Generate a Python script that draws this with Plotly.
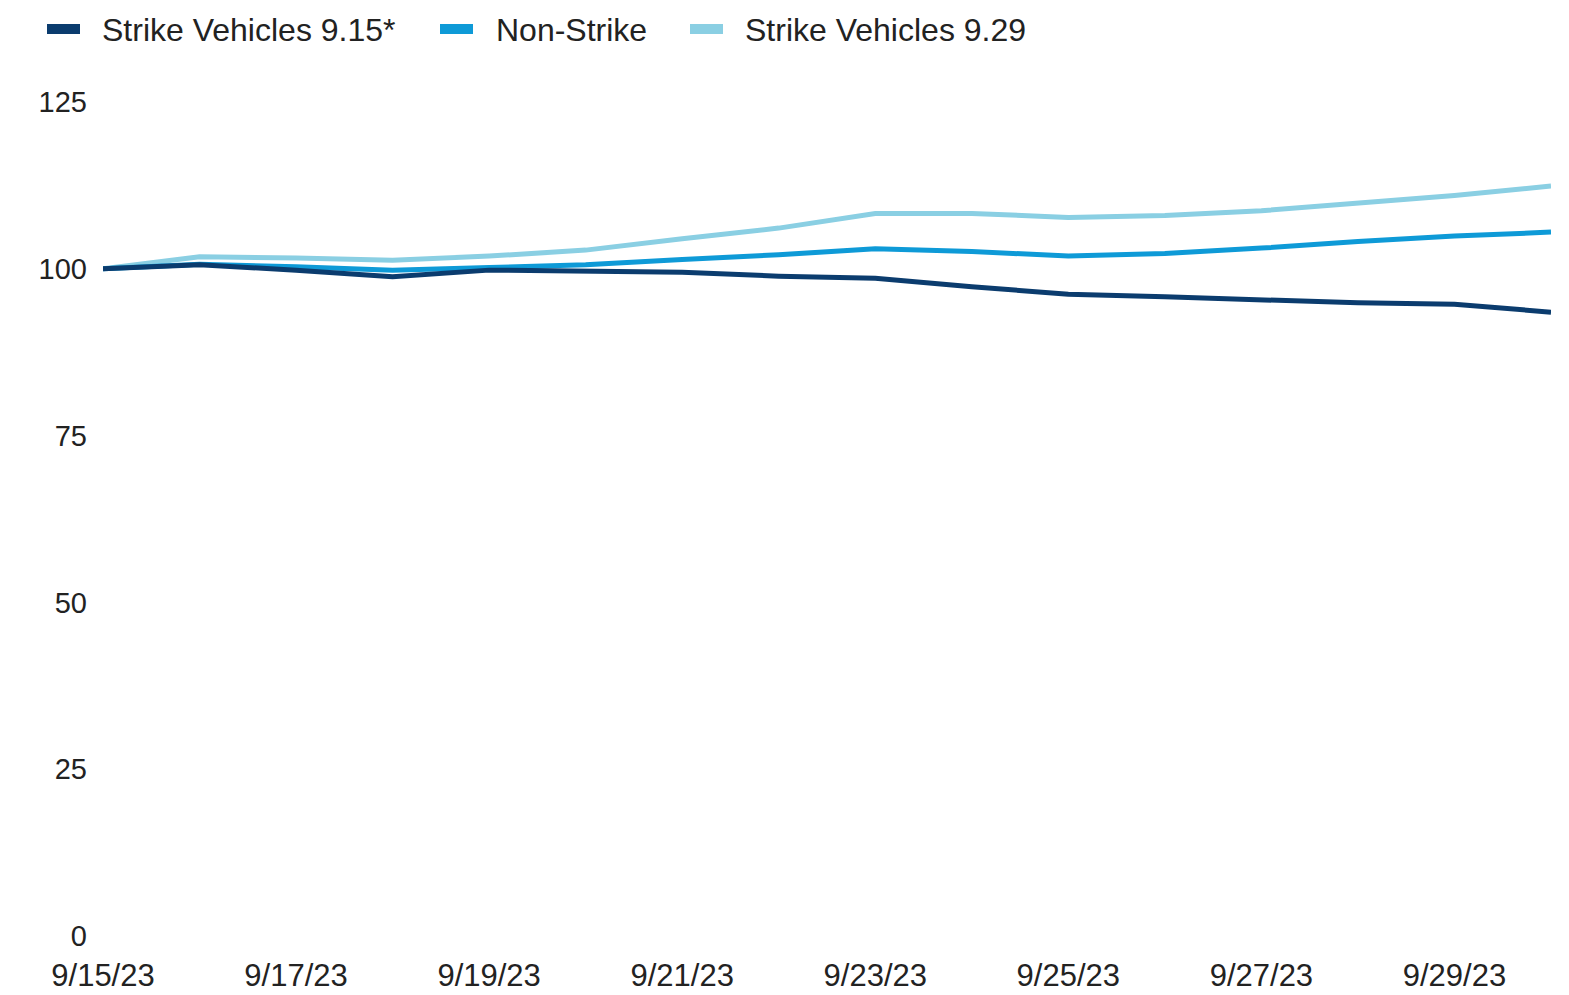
import plotly.graph_objects as go

dates = ["2023-09-15", "2023-09-16", "2023-09-17", "2023-09-18", "2023-09-19", "2023-09-20",
         "2023-09-21", "2023-09-22", "2023-09-23", "2023-09-24", "2023-09-25", "2023-09-26",
         "2023-09-27", "2023-09-28", "2023-09-29", "2023-09-30"]

strike_915 = [100.0, 100.6, 99.8, 98.8, 99.8, 99.6, 99.5, 98.9, 98.6, 97.3, 96.2, 95.8,
              95.3, 94.9, 94.7, 93.5]
non_strike = [100.0, 100.7, 100.3, 99.8, 100.2, 100.6, 101.4, 102.1, 103.0, 102.6, 101.9, 102.3,
              103.1, 104.1, 104.9, 105.5]
strike_929 = [100.0, 101.8, 101.6, 101.3, 101.9, 102.8, 104.5, 106.1, 108.3, 108.3, 107.7, 108.0,
              108.7, 109.8, 111.0, 112.4]

names = ["Strike Vehicles 9.15*", "Non-Strike", "Strike Vehicles 9.29"]
colors = ["#0B3C6E", "#0E9AD7", "#8ACFE3"]
series = [strike_915, non_strike, strike_929]

y_ticks = [0, 25, 50, 75, 100, 125]
x_ticks = ["2023-09-15", "2023-09-17", "2023-09-19", "2023-09-21", "2023-09-23",
           "2023-09-25", "2023-09-27", "2023-09-29"]

# page body has an 8px default margin; size the figure to fit the window
OFF = 8
W, H = 1569 - OFF, 995 - OFF
ML, MR, MT, MB = 103 - OFF, 18, 102 - OFF, 59
PW, PH = W - ML - MR, H - MT - MB

fig = go.Figure()
# draw light first so darker lines sit on top
for name, vals, col in reversed(list(zip(names, series, colors))):
    fig.add_trace(go.Scatter(x=dates, y=vals, name=name, mode="lines",
                             line=dict(color=col, width=5), showlegend=False))

font = "Liberation Sans, Arial, sans-serif"

# manual legend (swatch rectangles + labels) placed above the plot, page pixel positions
legend_swatch_x = [47, 440, 690]
legend_text_x = [102, 496, 745]
sw_w, sw_top, sw_bot, text_y = 33, 24, 34, 30


def px(x):
    return (x - OFF - ML) / PW


def py(y):
    return (H - MB - (y - OFF)) / PH


for name, col, sx, tx in zip(names, colors, legend_swatch_x, legend_text_x):
    fig.add_shape(type="rect", xref="paper", yref="paper",
                  x0=px(sx), x1=px(sx + sw_w), y0=py(sw_bot), y1=py(sw_top),
                  fillcolor=col, line=dict(width=0))
    fig.add_annotation(xref="paper", yref="paper", x=px(tx - 2), y=py(text_y),
                       xanchor="left", yanchor="middle", text=name, showarrow=False,
                       font=dict(family=font, size=32, color="#222222"))

fig.update_layout(
    width=W, height=H,
    margin=dict(l=ML, r=MR, t=MT, b=MB),
    paper_bgcolor="white", plot_bgcolor="white",
    font=dict(family=font, size=30, color="#222222"),
    showlegend=False,
)
fig.update_xaxes(type="date", range=["2023-09-15", "2023-09-30"], tickvals=x_ticks,
                 tickformat="%-m/%-d/%y", showgrid=False, zeroline=False, showline=False,
                 ticks="", ticklabelstandoff=18, tickfont=dict(size=31), automargin=False)
fig.update_yaxes(range=[0, 125], tickvals=y_ticks, showgrid=False, zeroline=False,
                 showline=False, ticks="", ticklabelstandoff=15, tickfont=dict(size=29),
                 automargin=False)

fig.write_html("out.html")
